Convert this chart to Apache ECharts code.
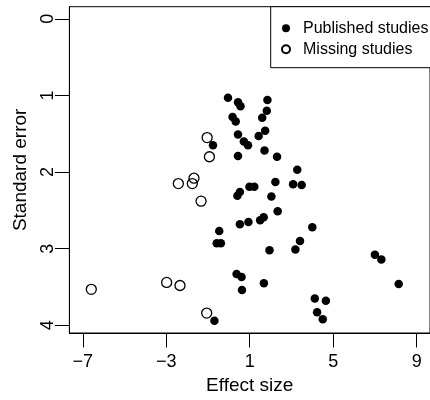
<!DOCTYPE html>
<html>
<head>
    <meta charset="utf-8">
    <title>funnel plot</title>
    <script src="https://cdn.jsdelivr.net/npm/echarts@6/dist/echarts.min.js"></script>
</head>
<body style="margin:0;background:#fff;">
    <div id="main" style="width:430px;height:400px;"></div>
    <script type="text/javascript">
        // 数据
        var publishedEffect = [-0.04, 0.44, 0.56, 1.85, 1.82, 1.60, 0.18, 0.33, 0.44, 1.74,
            1.43, 0.72, 0.92, -0.76, 0.44, 1.71, 2.31, 3.28, 0.99, 1.22,
            2.23, 3.08, 3.49, 0.41, 0.53, 2.04, 2.34, 0.53, 0.94, 1.50,
            1.67, 4.00, -0.46, -0.58, -0.38, 3.41, 1.95, 3.19, 7.00, 7.31,
            0.37, 0.61, 0.63, 1.68, 8.14, 4.12, 4.65, 4.23, 4.50, -0.69];
        var publishedSE = [1.03, 1.09, 1.14, 1.06, 1.20, 1.29, 1.28, 1.34, 1.51, 1.46,
            1.53, 1.60, 1.65, 1.65, 1.79, 1.72, 1.80, 1.97, 2.19, 2.19,
            2.13, 2.16, 2.17, 2.31, 2.26, 2.32, 2.51, 2.68, 2.65, 2.63,
            2.59, 2.72, 2.77, 2.93, 2.93, 2.90, 3.02, 3.01, 3.08, 3.14,
            3.33, 3.37, 3.54, 3.45, 3.46, 3.65, 3.68, 3.83, 3.92, 3.94];
        var missingEffect = [-1.04, -0.93, -1.67, -2.42, -1.75, -1.33, -6.59, -2.98, -2.34, -1.06];
        var missingSE = [1.55, 1.80, 2.08, 2.15, 2.15, 2.38, 3.53, 3.44, 3.48, 3.84];
        var xTicks = [-7, -3, 1, 5, 9];
        var yTicks = [0, 1, 2, 3, 4];

        function zip(a, b) {
            var out = [];
            for (var i = 0; i < a.length; i++) out.push([a[i], b[i]]);
            return out;
        }

        var FONT = 'Liberation Sans, Arial, sans-serif';
        var myChart = echarts.init(document.getElementById('main'));

        var option = {
            backgroundColor: '#fff',
            animation: false,
            textStyle: { fontFamily: FONT, color: '#000' },
            grid: {
                left: 69.4, right: -6, top: 6.7, bottom: 66.3,
                show: true, borderColor: '#000', borderWidth: 1
            },
            legend: {
                orient: 'vertical',
                left: 270.7, top: 6.7,
                padding: [13.5, 10, 10.5, 10.3],
                itemGap: 5,
                itemWidth: 24, itemHeight: 8,
                backgroundColor: '#fff',
                borderColor: '#000', borderWidth: 1,
                textStyle: { fontFamily: FONT, fontSize: 16, color: '#000', lineHeight: 16 },
                data: ['Published studies', 'Missing studies']
            },
            xAxis: {
                type: 'value',
                position: 'bottom',
                min: -7.64, max: 9.64,
                name: 'Effect size',
                nameLocation: 'middle',
                nameGap: 43,
                nameTextStyle: { fontFamily: FONT, fontSize: 19, color: '#000' },
                splitLine: { show: false },
                axisLine: { show: true, onZero: false, lineStyle: { color: '#000', width: 1 } },
                axisTick: { show: true, length: 14.5, customValues: xTicks, lineStyle: { color: '#000' } },
                axisLabel: {
                    customValues: xTicks, margin: 20, fontSize: 18, color: '#000', fontFamily: FONT,
                    formatter: function (v) { return String(v).replace('-', '\u2212'); }
                }
            },
            yAxis: {
                type: 'value',
                position: 'left',
                inverse: true,
                min: -0.158, max: 4.10,
                name: 'Standard error',
                nameLocation: 'middle',
                nameGap: 39,
                nameTextStyle: { fontFamily: FONT, fontSize: 19, color: '#000' },
                splitLine: { show: false },
                axisLine: { show: true, onZero: false, lineStyle: { color: '#000', width: 1 } },
                axisTick: { show: true, length: 14.5, customValues: yTicks, lineStyle: { color: '#000' } },
                axisLabel: {
                    customValues: yTicks, rotate: 90, margin: 12, fontSize: 18, color: '#000', fontFamily: FONT
                }
            },
            series: [
                {
                    name: 'Missing studies',
                    type: 'scatter',
                    symbol: 'circle',
                    symbolSize: 10,
                    itemStyle: { color: 'rgba(255,255,255,0)', borderColor: '#000', borderWidth: 1.3, opacity: 1 },
                    data: zip(missingEffect, missingSE)
                },
                {
                    name: 'Published studies',
                    type: 'scatter',
                    symbol: 'circle',
                    symbolSize: 8.5,
                    itemStyle: { color: '#000', opacity: 1 },
                    data: zip(publishedEffect, publishedSE)
                }
            ]
        };

        myChart.setOption(option);
    </script>
</body>
</html>
